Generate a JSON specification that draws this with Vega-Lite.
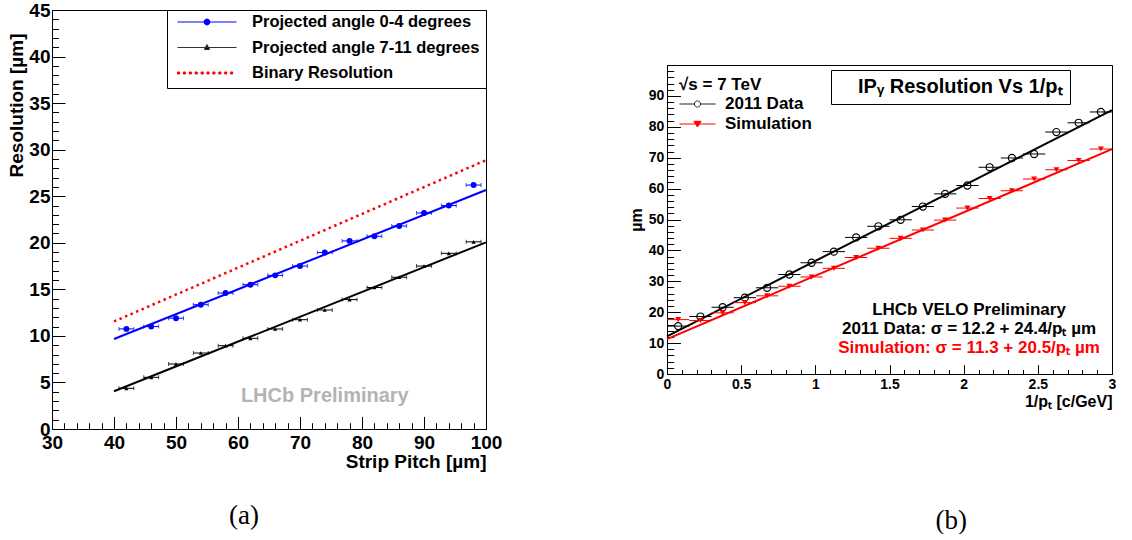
{
  "$schema": "https://vega.github.io/schema/vega-lite/v6.json",
  "background": "white",
  "padding": {"left": 7, "top": 0, "right": 0, "bottom": 0},
  "spacing": 124,
  "resolve": {
    "scale": {"fill": "independent", "stroke": "independent", "shape": "independent", "strokeDash": "independent"},
    "legend": {"fill": "independent", "stroke": "independent", "shape": "independent", "strokeDash": "independent"}
  },
  "config": {
    "view": {"stroke": "#000", "strokeWidth": 1},
    "axis": {"labelFont": "Liberation Sans", "labelFontWeight": "bold", "titleFont": "Liberation Sans", "titleFontWeight": "bold", "grid": false, "domainColor": "#000", "tickColor": "#000", "labelColor": "#000", "titleColor": "#000", "labelOverlap": false, "labelFlush": false, "tickWidth": 1, "domainWidth": 1}
  },
  "datasets": {
    "leftPts": [
      {"series": "Projected angle 0-4 degrees", "x": 42, "y": 10.75, "dx": 1.2},
      {"series": "Projected angle 0-4 degrees", "x": 46, "y": 11.0, "dx": 1.2},
      {"series": "Projected angle 0-4 degrees", "x": 50, "y": 11.9, "dx": 1.2},
      {"series": "Projected angle 0-4 degrees", "x": 54, "y": 13.35, "dx": 1.2},
      {"series": "Projected angle 0-4 degrees", "x": 58, "y": 14.6, "dx": 1.2},
      {"series": "Projected angle 0-4 degrees", "x": 62, "y": 15.5, "dx": 1.2},
      {"series": "Projected angle 0-4 degrees", "x": 66, "y": 16.5, "dx": 1.2},
      {"series": "Projected angle 0-4 degrees", "x": 70, "y": 17.5, "dx": 1.2},
      {"series": "Projected angle 0-4 degrees", "x": 74, "y": 18.95, "dx": 1.2},
      {"series": "Projected angle 0-4 degrees", "x": 78, "y": 20.2, "dx": 1.2},
      {"series": "Projected angle 0-4 degrees", "x": 82, "y": 20.7, "dx": 1.2},
      {"series": "Projected angle 0-4 degrees", "x": 86, "y": 21.8, "dx": 1.2},
      {"series": "Projected angle 0-4 degrees", "x": 90, "y": 23.2, "dx": 1.2},
      {"series": "Projected angle 0-4 degrees", "x": 94, "y": 24.0, "dx": 1.2},
      {"series": "Projected angle 0-4 degrees", "x": 98, "y": 26.2, "dx": 1.2},
      {"series": "Projected angle 7-11 degrees", "x": 42, "y": 4.37, "dx": 1.2},
      {"series": "Projected angle 7-11 degrees", "x": 46, "y": 5.55, "dx": 1.2},
      {"series": "Projected angle 7-11 degrees", "x": 50, "y": 6.98, "dx": 1.2},
      {"series": "Projected angle 7-11 degrees", "x": 54, "y": 8.16, "dx": 1.2},
      {"series": "Projected angle 7-11 degrees", "x": 58, "y": 8.95, "dx": 1.2},
      {"series": "Projected angle 7-11 degrees", "x": 62, "y": 9.74, "dx": 1.2},
      {"series": "Projected angle 7-11 degrees", "x": 66, "y": 10.74, "dx": 1.2},
      {"series": "Projected angle 7-11 degrees", "x": 70, "y": 11.74, "dx": 1.2},
      {"series": "Projected angle 7-11 degrees", "x": 74, "y": 12.78, "dx": 1.2},
      {"series": "Projected angle 7-11 degrees", "x": 78, "y": 13.9, "dx": 1.2},
      {"series": "Projected angle 7-11 degrees", "x": 82, "y": 15.2, "dx": 1.2},
      {"series": "Projected angle 7-11 degrees", "x": 86, "y": 16.3, "dx": 1.2},
      {"series": "Projected angle 7-11 degrees", "x": 90, "y": 17.5, "dx": 1.2},
      {"series": "Projected angle 7-11 degrees", "x": 94, "y": 18.87, "dx": 1.2},
      {"series": "Projected angle 7-11 degrees", "x": 98, "y": 20.1, "dx": 1.2}
    ],
    "leftFits": [
      {"series": "Projected angle 0-4 degrees", "x": 40, "y": 9.67},
      {"series": "Projected angle 0-4 degrees", "x": 100, "y": 25.67},
      {"series": "Projected angle 7-11 degrees", "x": 40, "y": 4.05},
      {"series": "Projected angle 7-11 degrees", "x": 100, "y": 20.05},
      {"series": "Binary Resolution", "x": 40, "y": 11.55},
      {"series": "Binary Resolution", "x": 100, "y": 28.87}
    ],
    "rightPts": [
      {"series": "2011 Data", "x": 0.075, "y": 15.5, "dx": 0.075},
      {"series": "2011 Data", "x": 0.225, "y": 18.6, "dx": 0.075},
      {"series": "2011 Data", "x": 0.375, "y": 21.6, "dx": 0.075},
      {"series": "2011 Data", "x": 0.525, "y": 24.7, "dx": 0.075},
      {"series": "2011 Data", "x": 0.675, "y": 27.9, "dx": 0.075},
      {"series": "2011 Data", "x": 0.825, "y": 32.2, "dx": 0.075},
      {"series": "2011 Data", "x": 0.975, "y": 36.0, "dx": 0.075},
      {"series": "2011 Data", "x": 1.125, "y": 39.6, "dx": 0.075},
      {"series": "2011 Data", "x": 1.275, "y": 44.2, "dx": 0.075},
      {"series": "2011 Data", "x": 1.425, "y": 47.8, "dx": 0.075},
      {"series": "2011 Data", "x": 1.575, "y": 49.9, "dx": 0.075},
      {"series": "2011 Data", "x": 1.725, "y": 54.2, "dx": 0.075},
      {"series": "2011 Data", "x": 1.875, "y": 58.3, "dx": 0.075},
      {"series": "2011 Data", "x": 2.025, "y": 61.0, "dx": 0.075},
      {"series": "2011 Data", "x": 2.175, "y": 66.9, "dx": 0.075},
      {"series": "2011 Data", "x": 2.325, "y": 69.9, "dx": 0.075},
      {"series": "2011 Data", "x": 2.475, "y": 71.2, "dx": 0.075},
      {"series": "2011 Data", "x": 2.625, "y": 78.3, "dx": 0.075},
      {"series": "2011 Data", "x": 2.775, "y": 81.3, "dx": 0.075},
      {"series": "2011 Data", "x": 2.925, "y": 84.8, "dx": 0.075},
      {"series": "Simulation", "x": 0.075, "y": 17.6, "dx": 0.075},
      {"series": "Simulation", "x": 0.225, "y": 17.3, "dx": 0.075},
      {"series": "Simulation", "x": 0.375, "y": 19.8, "dx": 0.075},
      {"series": "Simulation", "x": 0.525, "y": 23.1, "dx": 0.075},
      {"series": "Simulation", "x": 0.675, "y": 25.3, "dx": 0.075},
      {"series": "Simulation", "x": 0.825, "y": 28.4, "dx": 0.075},
      {"series": "Simulation", "x": 0.975, "y": 31.4, "dx": 0.075},
      {"series": "Simulation", "x": 1.125, "y": 34.2, "dx": 0.075},
      {"series": "Simulation", "x": 1.275, "y": 37.7, "dx": 0.075},
      {"series": "Simulation", "x": 1.425, "y": 40.7, "dx": 0.075},
      {"series": "Simulation", "x": 1.575, "y": 43.9, "dx": 0.075},
      {"series": "Simulation", "x": 1.725, "y": 46.6, "dx": 0.075},
      {"series": "Simulation", "x": 1.875, "y": 49.8, "dx": 0.075},
      {"series": "Simulation", "x": 2.025, "y": 53.7, "dx": 0.075},
      {"series": "Simulation", "x": 2.175, "y": 56.8, "dx": 0.075},
      {"series": "Simulation", "x": 2.325, "y": 59.3, "dx": 0.075},
      {"series": "Simulation", "x": 2.475, "y": 63.1, "dx": 0.075},
      {"series": "Simulation", "x": 2.625, "y": 66.1, "dx": 0.075},
      {"series": "Simulation", "x": 2.775, "y": 69.1, "dx": 0.075},
      {"series": "Simulation", "x": 2.925, "y": 72.8, "dx": 0.075}
    ],
    "rightFits": [
      {"series": "2011 Data", "x": 0, "y": 12.2},
      {"series": "2011 Data", "x": 3, "y": 85.4},
      {"series": "Simulation", "x": 0, "y": 11.3},
      {"series": "Simulation", "x": 3, "y": 72.8}
    ]
  },
  "hconcat": [
    {
      "width": 434,
      "height": 419,
      "title": {"text": "(a)", "orient": "bottom", "anchor": "middle", "frame": "group", "font": "Liberation Serif", "fontSize": 27, "fontWeight": "normal", "color": "#000", "offset": 31, "dx": -25},
      "layer": [
        {
          "encoding": {
            "x": {"field": "x", "type": "quantitative", "scale": {"domain": [30, 100], "nice": false, "zero": false},
              "axis": {"title": "Strip Pitch [µm]", "values": [30,32,34,36,38,40,42,44,46,48,50,52,54,56,58,60,62,64,66,68,70,72,74,76,78,80,82,84,86,88,90,92,94,96,98,100],
                "labelExpr": "datum.value % 10 === 0 ? datum.label : ''", "format": "d",
                "tickSize": {"condition": {"test": "datum.value % 10 === 0", "value": -12.6}, "value": -6.3},
                "labelPadding": 17, "labelFontSize": 19, "titleFontSize": 19, "titleAnchor": "end", "titlePadding": -6}},
            "y": {"field": "y", "type": "quantitative", "scale": {"domain": [0, 45], "nice": false, "zero": false},
              "axis": {"title": "Resolution [µm]", "values": [0,1,2,3,4,5,6,7,8,9,10,11,12,13,14,15,16,17,18,19,20,21,22,23,24,25,26,27,28,29,30,31,32,33,34,35,36,37,38,39,40,41,42,43,44,45],
                "labelExpr": "datum.value % 5 === 0 ? datum.label : ''", "format": "d",
                "tickSize": {"condition": {"test": "datum.value % 5 === 0", "value": -13}, "value": -6.5},
                "labelPadding": 15, "labelFontSize": 19, "titleFontSize": 19, "titleAnchor": "end", "titleY": 23, "titlePadding": 2}}
          },
          "layer": [
            {"data": {"name": "leftFits"}, "transform": [{"filter": "datum.series === 'Binary Resolution'"}],
             "mark": {"type": "line", "color": "#ff0000", "strokeWidth": 2.5, "strokeDash": [2.5, 3.5]}},
            {"data": {"name": "leftFits"}, "transform": [{"filter": "datum.series === 'Projected angle 0-4 degrees'"}],
             "mark": {"type": "line", "color": "#0000ff", "strokeWidth": 2}},
            {"data": {"name": "leftFits"}, "transform": [{"filter": "datum.series === 'Projected angle 7-11 degrees'"}],
             "mark": {"type": "line", "color": "#000000", "strokeWidth": 2}},
            {"data": {"name": "leftPts"}, "transform": [{"filter": "datum.series === 'Projected angle 0-4 degrees'"}],
             "mark": {"type": "errorbar", "color": "#0000ff", "ticks": {"size": 4}, "rule": {"strokeWidth": 1}},
             "encoding": {"xError": {"field": "dx"}}},
            {"data": {"name": "leftPts"}, "transform": [{"filter": "datum.series === 'Projected angle 7-11 degrees'"}],
             "mark": {"type": "errorbar", "color": "#000000", "ticks": {"size": 4}, "rule": {"strokeWidth": 1}},
             "encoding": {"xError": {"field": "dx"}}},
            {"data": {"name": "leftPts"}, "transform": [{"filter": "datum.series === 'Projected angle 0-4 degrees'"}],
             "mark": {"type": "point", "shape": "circle", "filled": true, "color": "#0000ff", "size": 35, "opacity": 1}},
            {"data": {"name": "leftPts"}, "transform": [{"filter": "datum.series === 'Projected angle 7-11 degrees'"}],
             "mark": {"type": "point", "shape": "triangle-up", "filled": true, "color": "#000000", "size": 18, "opacity": 1}},
            {"data": {"name": "leftFits"},
             "mark": {"type": "point", "filled": true, "opacity": 0},
             "encoding": {
               "fill": {"field": "series", "type": "nominal",
                 "scale": {"domain": ["Projected angle 0-4 degrees", "Projected angle 7-11 degrees", "Binary Resolution"], "range": ["#0000ff", "#000000", "#ff0000"]},
                 "legend": {"title": null, "orient": "top-right", "offset": 0, "padding": 6, "strokeColor": "#000", "fillColor": "#fff", "symbolSize": 3481, "symbolStrokeWidth": 1, "symbolOpacity": 1, "symbolOffset": 4, "clipHeight": 12, "rowPadding": 8.5, "labelFont": "Liberation Sans", "labelFontSize": 16.5, "labelFontWeight": "bold", "labelColor": "#000", "labelOffset": 15, "labelLimit": 400, "labelExpr": "datum.label + '   '"}},
               "stroke": {"field": "series", "type": "nominal",
                 "scale": {"domain": ["Projected angle 0-4 degrees", "Projected angle 7-11 degrees", "Binary Resolution"], "range": ["#0000ff", "#333333", "#ff0000"]},
                 "legend": {"title": null, "orient": "top-right", "offset": 0, "padding": 6, "strokeColor": "#000", "fillColor": "#fff", "symbolSize": 3481, "symbolStrokeWidth": 1, "symbolOpacity": 1, "symbolOffset": 4, "clipHeight": 12, "rowPadding": 8.5, "labelFont": "Liberation Sans", "labelFontSize": 16.5, "labelFontWeight": "bold", "labelColor": "#000", "labelOffset": 15, "labelLimit": 400, "labelExpr": "datum.label + '   '"}},
               "shape": {"field": "series", "type": "nominal",
                 "scale": {"domain": ["Projected angle 0-4 degrees", "Projected angle 7-11 degrees", "Binary Resolution"],
                   "range": ["M-1,0H1M0.1,0A0.1,0.1,0,1,1,-0.1,0A0.1,0.1,0,1,1,0.1,0Z", "M-1,0H1M0,-0.1L0.09,0.07L-0.09,0.07Z", "M-1,-0.035H-0.93V0.035H-1ZM-0.8,-0.035H-0.73V0.035H-0.8ZM-0.6,-0.035H-0.53V0.035H-0.6ZM-0.4,-0.035H-0.33V0.035H-0.4ZM-0.2,-0.035H-0.13V0.035H-0.2ZM0,-0.035H0.07V0.035H0ZM0.2,-0.035H0.27V0.035H0.2ZM0.4,-0.035H0.47V0.035H0.4ZM0.6,-0.035H0.67V0.035H0.6ZM0.8,-0.035H0.87V0.035H0.8Z"]},
                 "legend": {"title": null, "orient": "top-right", "offset": 0, "padding": 6, "strokeColor": "#000", "fillColor": "#fff", "symbolSize": 3481, "symbolStrokeWidth": 1, "symbolOpacity": 1, "symbolOffset": 4, "clipHeight": 12, "rowPadding": 8.5, "labelFont": "Liberation Sans", "labelFontSize": 16.5, "labelFontWeight": "bold", "labelColor": "#000", "labelOffset": 15, "labelLimit": 400, "labelExpr": "datum.label + '   '"}}
             }}
          ]
        },
        {"data": {"values": [{}]},
         "mark": {"type": "text", "font": "Liberation Sans", "fontSize": 20, "fontWeight": "bold", "color": "#b3b3b3", "align": "center", "baseline": "middle", "text": "LHCb Preliminary"},
         "encoding": {
           "x": {"datum": 74, "type": "quantitative", "scale": {"domain": [30, 100], "nice": false, "zero": false},
             "axis": {"title": "Strip Pitch [µm]", "values": [30,32,34,36,38,40,42,44,46,48,50,52,54,56,58,60,62,64,66,68,70,72,74,76,78,80,82,84,86,88,90,92,94,96,98,100],
               "labelExpr": "datum.value % 10 === 0 ? datum.label : ''", "format": "d",
               "tickSize": {"condition": {"test": "datum.value % 10 === 0", "value": -12.6}, "value": -6.3},
               "labelPadding": 17, "labelFontSize": 19, "titleFontSize": 19, "titleAnchor": "end", "titlePadding": -6}},
           "y": {"datum": 3.5, "type": "quantitative", "scale": {"domain": [0, 45], "nice": false, "zero": false},
             "axis": {"title": "Resolution [µm]", "values": [0,1,2,3,4,5,6,7,8,9,10,11,12,13,14,15,16,17,18,19,20,21,22,23,24,25,26,27,28,29,30,31,32,33,34,35,36,37,38,39,40,41,42,43,44,45],
               "labelExpr": "datum.value % 5 === 0 ? datum.label : ''", "format": "d",
               "tickSize": {"condition": {"test": "datum.value % 5 === 0", "value": -13}, "value": -6.5},
               "labelPadding": 15, "labelFontSize": 19, "titleFontSize": 19, "titleAnchor": "end", "titleY": 23, "titlePadding": 2}}
         }}
      ]
    },
    {
      "spacing": 13,
      "resolve": {
        "scale": {"fill": "independent", "stroke": "independent", "shape": "independent", "strokeDash": "independent"},
        "legend": {"fill": "independent", "stroke": "independent", "shape": "independent", "strokeDash": "independent"}
      },
      "title": {"text": "(b)", "orient": "bottom", "anchor": "middle", "frame": "bounds", "font": "Liberation Serif", "fontSize": 27, "fontWeight": "normal", "color": "#000", "offset": 98, "dx": 79},
      "vconcat": [
        {
          "width": 445,
          "height": 34,
          "view": {"stroke": null},
          "data": {"values": [{}]},
          "mark": {"type": "text", "text": ""}
        },
        {
          "width": 445,
          "height": 309,
          "layer": [
            {
              "encoding": {
                "x": {"field": "x", "type": "quantitative", "scale": {"domain": [0, 3], "nice": false, "zero": false},
                  "axis": {"title": "1/pₜ [c/GeV]", "values": [0,0.1,0.2,0.3,0.4,0.5,0.6,0.7,0.8,0.9,1,1.1,1.2,1.3,1.4,1.5,1.6,1.7,1.8,1.9,2,2.1,2.2,2.3,2.4,2.5,2.6,2.7,2.8,2.9,3],
                    "labelExpr": "abs(datum.value*2 - round(datum.value*2)) < 0.001 ? format(datum.value, '~g') : ''",
                    "tickSize": {"condition": {"test": "abs(datum.value*2 - round(datum.value*2)) < 0.001", "value": -9.3}, "value": -4.6},
                    "labelPadding": 13, "labelFontSize": 14, "titleFontSize": 16, "titleAnchor": "end", "titlePadding": -3}},
                "y": {"field": "y", "type": "quantitative", "scale": {"domain": [0, 100], "nice": false, "zero": false},
                  "axis": {"title": "µm", "values": [0,2,4,6,8,10,12,14,16,18,20,22,24,26,28,30,32,34,36,38,40,42,44,46,48,50,52,54,56,58,60,62,64,66,68,70,72,74,76,78,80,82,84,86,88,90,92,94,96,98,100],
                    "labelExpr": "datum.value % 10 === 0 && datum.value < 100 ? datum.label : ''", "format": "d",
                    "tickSize": {"condition": {"test": "datum.value % 10 === 0", "value": -13.4}, "value": -6.7},
                    "labelPadding": 16.5, "labelFontSize": 14, "titleFontSize": 16, "titleAnchor": "middle", "titlePadding": 4}}
              },
              "layer": [
                {"data": {"name": "rightFits"}, "transform": [{"filter": "datum.series === '2011 Data'"}],
                 "mark": {"type": "line", "color": "#000000", "strokeWidth": 2}},
                {"data": {"name": "rightFits"}, "transform": [{"filter": "datum.series === 'Simulation'"}],
                 "mark": {"type": "line", "color": "#ff0000", "strokeWidth": 2}},
                {"data": {"name": "rightPts"}, "transform": [{"filter": "datum.series === '2011 Data'"}],
                 "mark": {"type": "errorbar", "color": "#000000", "rule": {"strokeWidth": 1}},
                 "encoding": {"xError": {"field": "dx"}}},
                {"data": {"name": "rightPts"}, "transform": [{"filter": "datum.series === 'Simulation'"}],
                 "mark": {"type": "errorbar", "color": "#ff0000", "rule": {"strokeWidth": 1}},
                 "encoding": {"xError": {"field": "dx"}}},
                {"data": {"name": "rightPts"}, "transform": [{"filter": "datum.series === '2011 Data'"}],
                 "mark": {"type": "point", "shape": "circle", "filled": false, "color": "#000000", "size": 50, "strokeWidth": 1.2, "opacity": 1}},
                {"data": {"name": "rightPts"}, "transform": [{"filter": "datum.series === 'Simulation'"}],
                 "mark": {"type": "point", "shape": "triangle-down", "filled": true, "color": "#ff0000", "size": 35, "opacity": 1}},
                {"data": {"name": "rightFits"},
                 "mark": {"type": "point", "filled": true, "opacity": 0},
                 "encoding": {
                   "fill": {"field": "series", "type": "nominal",
                     "scale": {"domain": ["2011 Data", "Simulation"], "range": ["#ffffff", "#ff0000"]},
                     "legend": {"title": "√s = 7 TeV", "orient": "top-left", "offset": 10, "padding": 2, "symbolSize": 1296, "symbolStrokeWidth": 1, "symbolOpacity": 1, "clipHeight": 16, "rowPadding": 3, "labelFont": "Liberation Sans", "labelFontSize": 17, "labelFontWeight": "bold", "labelColor": "#000", "labelOffset": 9, "labelLimit": 400, "titleFont": "Liberation Sans", "titleFontSize": 17, "titleFontWeight": "bold", "titleColor": "#000", "titlePadding": 2}},
                   "stroke": {"field": "series", "type": "nominal",
                     "scale": {"domain": ["2011 Data", "Simulation"], "range": ["#222222", "#ff0000"]},
                     "legend": {"title": "√s = 7 TeV", "orient": "top-left", "offset": 10, "padding": 2, "symbolSize": 1296, "symbolStrokeWidth": 1, "symbolOpacity": 1, "clipHeight": 16, "rowPadding": 3, "labelFont": "Liberation Sans", "labelFontSize": 17, "labelFontWeight": "bold", "labelColor": "#000", "labelOffset": 9, "labelLimit": 400, "titleFont": "Liberation Sans", "titleFontSize": 17, "titleFontWeight": "bold", "titleColor": "#000", "titlePadding": 2}},
                   "shape": {"field": "series", "type": "nominal",
                     "scale": {"domain": ["2011 Data", "Simulation"],
                       "range": ["M-1,0H-0.17M0.17,0H1M0.17,0A0.17,0.17,0,1,1,-0.17,0A0.17,0.17,0,1,1,0.17,0Z", "M-1,0H1M-0.2,-0.15H0.2L0,0.17Z"]},
                     "legend": {"title": "√s = 7 TeV", "orient": "top-left", "offset": 10, "padding": 2, "symbolSize": 1296, "symbolStrokeWidth": 1, "symbolOpacity": 1, "clipHeight": 16, "rowPadding": 3, "labelFont": "Liberation Sans", "labelFontSize": 17, "labelFontWeight": "bold", "labelColor": "#000", "labelOffset": 9, "labelLimit": 400, "titleFont": "Liberation Sans", "titleFontSize": 17, "titleFontWeight": "bold", "titleColor": "#000", "titlePadding": 2}},
                   "strokeDash": {"datum": "IPᵧ Resolution Vs 1/pₜ",
                     "legend": {"title": null, "orient": "none", "legendX": 164, "legendY": 5, "strokeColor": "#000", "fillColor": "#fff", "padding": 7, "symbolSize": 0, "symbolOpacity": 0, "labelOffset": 0, "labelFont": "Liberation Sans", "labelFontSize": 20, "labelFontWeight": "bold", "labelColor": "#000", "labelLimit": 400}}
                 }}
              ]
            },
            {"data": {"values": [{}]},
             "mark": {"type": "text", "font": "Liberation Sans", "fontSize": 17, "fontWeight": "bold", "color": "#000", "align": "center", "baseline": "middle", "text": "LHCb VELO Preliminary"},
             "encoding": {
               "x": {"datum": 2.036, "type": "quantitative", "scale": {"domain": [0, 3], "nice": false, "zero": false},
                 "axis": {"title": "1/pₜ [c/GeV]", "values": [0,0.1,0.2,0.3,0.4,0.5,0.6,0.7,0.8,0.9,1,1.1,1.2,1.3,1.4,1.5,1.6,1.7,1.8,1.9,2,2.1,2.2,2.3,2.4,2.5,2.6,2.7,2.8,2.9,3],
                   "labelExpr": "abs(datum.value*2 - round(datum.value*2)) < 0.001 ? format(datum.value, '~g') : ''",
                   "tickSize": {"condition": {"test": "abs(datum.value*2 - round(datum.value*2)) < 0.001", "value": -9.3}, "value": -4.6},
                   "labelPadding": 13, "labelFontSize": 14, "titleFontSize": 16, "titleAnchor": "end", "titlePadding": -3}},
               "y": {"datum": 20.7, "type": "quantitative", "scale": {"domain": [0, 100], "nice": false, "zero": false},
                 "axis": {"title": "µm", "values": [0,2,4,6,8,10,12,14,16,18,20,22,24,26,28,30,32,34,36,38,40,42,44,46,48,50,52,54,56,58,60,62,64,66,68,70,72,74,76,78,80,82,84,86,88,90,92,94,96,98,100],
                   "labelExpr": "datum.value % 10 === 0 && datum.value < 100 ? datum.label : ''", "format": "d",
                   "tickSize": {"condition": {"test": "datum.value % 10 === 0", "value": -13.4}, "value": -6.7},
                   "labelPadding": 16.5, "labelFontSize": 14, "titleFontSize": 16, "titleAnchor": "middle", "titlePadding": 4}}
             }},
            {"data": {"values": [{}]},
             "mark": {"type": "text", "font": "Liberation Sans", "fontSize": 17, "fontWeight": "bold", "color": "#000", "align": "center", "baseline": "middle", "text": "2011 Data: σ = 12.2 + 24.4/pₜ µm"},
             "encoding": {
               "x": {"datum": 2.036, "type": "quantitative", "scale": {"domain": [0, 3], "nice": false, "zero": false},
                 "axis": {"title": "1/pₜ [c/GeV]", "values": [0,0.1,0.2,0.3,0.4,0.5,0.6,0.7,0.8,0.9,1,1.1,1.2,1.3,1.4,1.5,1.6,1.7,1.8,1.9,2,2.1,2.2,2.3,2.4,2.5,2.6,2.7,2.8,2.9,3],
                   "labelExpr": "abs(datum.value*2 - round(datum.value*2)) < 0.001 ? format(datum.value, '~g') : ''",
                   "tickSize": {"condition": {"test": "abs(datum.value*2 - round(datum.value*2)) < 0.001", "value": -9.3}, "value": -4.6},
                   "labelPadding": 13, "labelFontSize": 14, "titleFontSize": 16, "titleAnchor": "end", "titlePadding": -3}},
               "y": {"datum": 14.7, "type": "quantitative", "scale": {"domain": [0, 100], "nice": false, "zero": false},
                 "axis": {"title": "µm", "values": [0,2,4,6,8,10,12,14,16,18,20,22,24,26,28,30,32,34,36,38,40,42,44,46,48,50,52,54,56,58,60,62,64,66,68,70,72,74,76,78,80,82,84,86,88,90,92,94,96,98,100],
                   "labelExpr": "datum.value % 10 === 0 && datum.value < 100 ? datum.label : ''", "format": "d",
                   "tickSize": {"condition": {"test": "datum.value % 10 === 0", "value": -13.4}, "value": -6.7},
                   "labelPadding": 16.5, "labelFontSize": 14, "titleFontSize": 16, "titleAnchor": "middle", "titlePadding": 4}}
             }},
            {"data": {"values": [{}]},
             "mark": {"type": "text", "font": "Liberation Sans", "fontSize": 17, "fontWeight": "bold", "color": "#ff0000", "align": "center", "baseline": "middle", "text": "Simulation: σ = 11.3 + 20.5/pₜ µm"},
             "encoding": {
               "x": {"datum": 2.036, "type": "quantitative", "scale": {"domain": [0, 3], "nice": false, "zero": false},
                 "axis": {"title": "1/pₜ [c/GeV]", "values": [0,0.1,0.2,0.3,0.4,0.5,0.6,0.7,0.8,0.9,1,1.1,1.2,1.3,1.4,1.5,1.6,1.7,1.8,1.9,2,2.1,2.2,2.3,2.4,2.5,2.6,2.7,2.8,2.9,3],
                   "labelExpr": "abs(datum.value*2 - round(datum.value*2)) < 0.001 ? format(datum.value, '~g') : ''",
                   "tickSize": {"condition": {"test": "abs(datum.value*2 - round(datum.value*2)) < 0.001", "value": -9.3}, "value": -4.6},
                   "labelPadding": 13, "labelFontSize": 14, "titleFontSize": 16, "titleAnchor": "end", "titlePadding": -3}},
               "y": {"datum": 8.4, "type": "quantitative", "scale": {"domain": [0, 100], "nice": false, "zero": false},
                 "axis": {"title": "µm", "values": [0,2,4,6,8,10,12,14,16,18,20,22,24,26,28,30,32,34,36,38,40,42,44,46,48,50,52,54,56,58,60,62,64,66,68,70,72,74,76,78,80,82,84,86,88,90,92,94,96,98,100],
                   "labelExpr": "datum.value % 10 === 0 && datum.value < 100 ? datum.label : ''", "format": "d",
                   "tickSize": {"condition": {"test": "datum.value % 10 === 0", "value": -13.4}, "value": -6.7},
                   "labelPadding": 16.5, "labelFontSize": 14, "titleFontSize": 16, "titleAnchor": "middle", "titlePadding": 4}}
             }}
          ]
        }
      ]
    }
  ]
}
